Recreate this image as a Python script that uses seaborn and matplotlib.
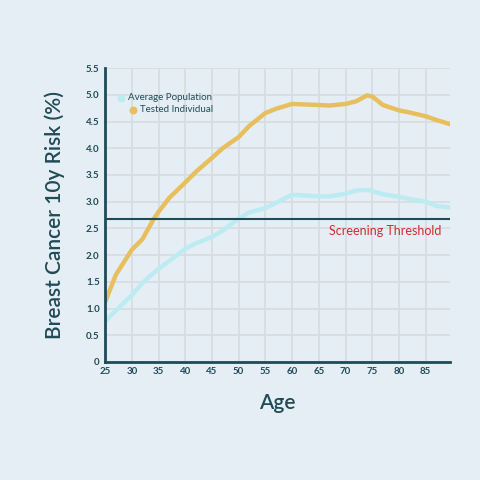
import pandas as pd
import seaborn as sns
import matplotlib.pyplot as plt
from matplotlib.ticker import FuncFormatter

# data
ages = [25, 27, 30, 32, 34, 35, 37, 40, 42, 45, 47, 50, 52, 55, 57, 60, 65, 67, 70, 72, 74, 75, 77, 80, 82, 85, 87, 89.6]
tested = [1.12, 1.63, 2.10, 2.30, 2.66, 2.81, 3.07, 3.36, 3.56, 3.82, 4.00, 4.21, 4.42, 4.66, 4.74, 4.83, 4.81, 4.80, 4.83, 4.88, 4.99, 4.97, 4.81, 4.71, 4.67, 4.60, 4.53, 4.45]
average = [0.76, 0.96, 1.25, 1.48, 1.66, 1.74, 1.89, 2.12, 2.22, 2.34, 2.46, 2.68, 2.80, 2.88, 2.98, 3.13, 3.10, 3.10, 3.15, 3.21, 3.22, 3.20, 3.14, 3.09, 3.05, 3.00, 2.92, 2.89]
threshold = 2.67

bg = '#E6EEF5'
ink = '#1F4B57'
yellow = '#E8BF5F'
cyan = '#BDEBF2'

df = pd.DataFrame({
    'Age': ages * 2,
    'Risk': average + tested,
    'Group': ['Average Population'] * len(ages) + ['Tested Individual'] * len(ages),
})

sns.set_theme(style='whitegrid')
plt.rcParams['font.family'] = ['Lato', 'DejaVu Sans']

fig = plt.figure(figsize=(4.8, 4.8), dpi=100, facecolor=bg)
ax = fig.add_axes([0.219, 0.246, 0.719, 0.612])
ax.set_facecolor(bg)

sns.lineplot(data=df, x='Age', y='Risk', hue='Group',
             palette={'Average Population': cyan, 'Tested Individual': yellow},
             linewidth=3.2, legend=False, ax=ax)

ax.axhline(threshold, color=ink, linewidth=1.5, zorder=3)
ax.text(88.0, threshold - 0.11, 'Screening Threshold', color='#D02B2B',
        fontsize=9, ha='right', va='top')

ax.set_xlim(25, 89.6)
ax.set_ylim(0, 5.5)
ax.set_xticks(range(25, 90, 5))
ax.set_yticks([i * 0.5 for i in range(12)])
ax.yaxis.set_major_formatter(FuncFormatter(lambda v, p: '0' if v == 0 else f'{v:.1f}'))
ax.grid(True, color='#D6DCE0', linewidth=1.2)
ax.tick_params(length=0, labelsize=7, colors=ink, pad=4)
for lab in ax.get_xticklabels() + ax.get_yticklabels():
    lab.set_fontweight('bold')

for s in ['top', 'right']:
    ax.spines[s].set_visible(False)
for s in ['left', 'bottom']:
    ax.spines[s].set_color(ink)
    ax.spines[s].set_linewidth(2)

ax.set_xlabel('Age', fontsize=15, color=ink, labelpad=12, fontweight='semibold')
ax.set_ylabel('Breast Cancer 10y Risk (%)', fontsize=15, color=ink, labelpad=15,
              fontweight='semibold')

# staggered legend as in the reference
ax.scatter([0.045], [0.899], transform=ax.transAxes, s=22, color=cyan, clip_on=False, zorder=4)
ax.text(0.066, 0.899, 'Average Population', transform=ax.transAxes, fontsize=7,
        color=ink, va='center')
ax.scatter([0.08], [0.859], transform=ax.transAxes, s=22, color=yellow, clip_on=False, zorder=4)
ax.text(0.101, 0.859, 'Tested Individual', transform=ax.transAxes, fontsize=7,
        color=ink, va='center')

fig.savefig('out.png', dpi=100, facecolor=bg)
